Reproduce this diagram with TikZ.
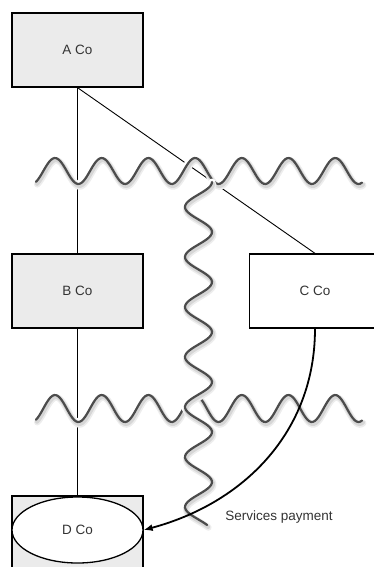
\documentclass[tikz,border=0pt]{standalone}
\usepackage{fontspec}
\setmainfont{Liberation Sans}
\usetikzlibrary{arrows.meta,shapes.geometric}

\begin{document}
\begin{tikzpicture}[x=1pt, y=-1pt,
    company/.style = {draw, line width=1.3pt, minimum width=131pt, minimum height=74pt,
                      font=\fontsize{13.5}{15}\selectfont, text=black!80},
    parent/.style = {company, fill=black!8},
    link/.style = {line width=0.9pt},
    flow/.style = {line width=1.8pt, -{Latex[length=9pt, width=7pt]}}]
    \useasboundingbox (0,0) rectangle (373,567);

    \node[parent] (A) at (77.5,50) {A Co};
    \node[parent] (B) at (77.5,291) {B Co};
    \node[company, fill=white] (C) at (315,291) {C Co};
    \node[parent] (Dbox) at (77.5,533) {};
    \node[company, ellipse, fill=white, minimum height=66pt] (D) at (77.5,530) {D Co};

    \draw[link] (A.south) -- (B.north);
    \draw[link] (B.south) -- (Dbox.north);
    \draw[link] (A.south) -- (C.north);

    % the two horizontal borders
    \foreach \c/\w/\s in {white/7/0, black!7/6.5/2.5, black!16/4/2, black!70/2.2/0} {
      \draw[color=\c, line width=\w pt, shift={(0.5*\s,\s)}, line cap=round]
        plot[domain=36:362, samples=180] (\x, {171 - 13*cos((\x-55)/46.7*360)})
        plot[domain=36:362, samples=180] (\x, {408.5 - 13.5*cos((\x-55)/46.7*360)});
    }
    % the vertical border
    \foreach \c/\w/\s in {white/7/0, black!7/6.5/2.5, black!16/4/2, black!70/2.2/0} {
      \draw[color=\c, line width=\w pt, shift={(0.5*\s,\s)}, line cap=round]
        plot[domain=182:525, samples=180] ({198.5 + 13.5*cos((\x-182)/50*360)}, \x);
    }

    \draw[flow] (C.south) to[out=-90, in=15] (D.east);
    \node[font=\fontsize{13.5}{15}\selectfont, text=black!80] (pay) at (279,517) {Services payment};
\end{tikzpicture}
\end{document}
